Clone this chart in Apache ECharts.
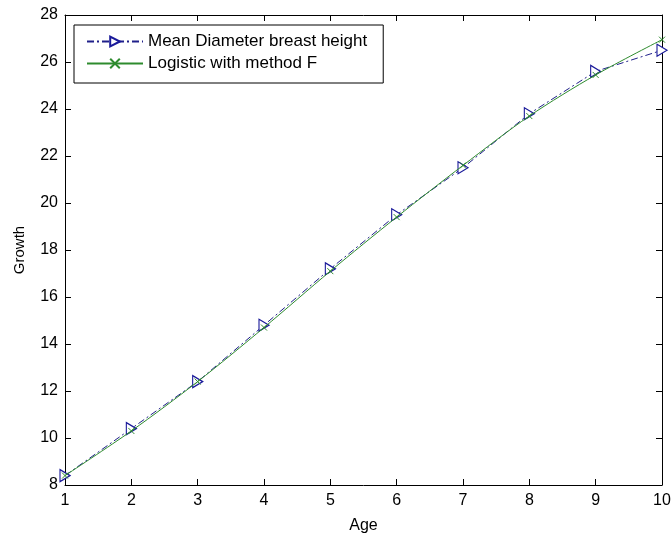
<!DOCTYPE html>
<html>
<head>
<meta charset="utf-8">
<script src="https://cdn.jsdelivr.net/npm/echarts@6/dist/echarts.min.js"></script>
<style>
  html, body { margin: 0; padding: 0; background: #fff; }
  #chart { width: 672px; height: 536px; }
</style>
</head>
<body>
<div id="chart"></div>
<script>
// ages on the x axis
const ages = [1, 2, 3, 4, 5, 6, 7, 8, 9, 10];
// measured mean diameter at breast height
const meanDiameter = [8.4, 10.4, 12.4, 14.8, 17.2, 19.5, 21.5, 23.8, 25.6, 26.5];
// fitted logistic curve (method F)
const logisticF = [8.4, 10.3, 12.4, 14.7, 17.1, 19.4, 21.6, 23.7, 25.45, 26.95];

const font = 'Liberation Sans, Arial, sans-serif';

const sideAxis = {
  type: 'value',
  axisLine: { show: true, lineStyle: { color: '#000', width: 1 } },
  axisTick: { show: true, inside: true, length: 6, lineStyle: { color: '#000' } },
  axisLabel: { show: false },
  splitLine: { show: false }
};

const chart = echarts.init(document.getElementById('chart'));
chart.setOption({
  animation: false,
  backgroundColor: '#fff',
  grid: { left: 65, right: 10, top: 15, bottom: 51, outerBoundsMode: 'none' },
  legend: {
    orient: 'vertical',
    left: 74,
    top: 25,
    padding: [8, 16, 11, 12],
    itemGap: 5,
    itemWidth: 56,
    itemHeight: 12,
    backgroundColor: '#fff',
    borderColor: '#000',
    borderWidth: 1,
    borderRadius: 0,
    textStyle: { fontFamily: font, fontSize: 17, color: '#000' },
    data: ['Mean Diameter breast height', 'Logistic with method F']
  },
  xAxis: [
    {
      type: 'value', min: 1, max: 10, interval: 1,
      name: 'Age', nameLocation: 'middle', nameGap: 33,
      nameTextStyle: { fontFamily: font, fontSize: 16, color: '#000' },
      axisLine: { show: true, onZero: false, lineStyle: { color: '#000', width: 1 } },
      axisTick: { show: true, inside: true, length: 6, lineStyle: { color: '#000' } },
      axisLabel: { fontFamily: font, fontSize: 16, color: '#000', margin: 8 },
      splitLine: { show: false }
    },
    Object.assign({}, sideAxis, { position: 'top', min: 1, max: 10, interval: 1 })
  ],
  yAxis: [
    {
      type: 'value', min: 8, max: 28, interval: 2,
      name: 'Growth', nameLocation: 'middle', nameGap: 38,
      nameTextStyle: { fontFamily: font, fontSize: 15, color: '#000' },
      axisLine: { show: true, onZero: false, lineStyle: { color: '#000', width: 1 } },
      axisTick: { show: true, inside: true, length: 6, lineStyle: { color: '#000' } },
      axisLabel: { fontFamily: font, fontSize: 16, color: '#000', margin: 7 },
      splitLine: { show: false }
    },
    Object.assign({}, sideAxis, { position: 'right', min: 8, max: 28, interval: 2 })
  ],
  series: [
    {
      name: 'Mean Diameter breast height',
      type: 'line',
      data: ages.map((a, i) => [a, meanDiameter[i]]),
      symbol: 'triangle',
      symbolRotate: -90,
      symbolSize: [12, 10],
      lineStyle: { color: '#20208a', width: 1, type: [7, 3, 2, 3] },
      itemStyle: { color: '#fff', borderColor: '#1a1a9a', borderWidth: 1.2 },
      z: 2
    },
    {
      name: 'Logistic with method F',
      type: 'line',
      data: ages.map((a, i) => [a, logisticF[i]]),
      smooth: 0.3,
      symbol: 'path://M0,0L10,10M10,0L0,10',
      symbolSize: 6,
      lineStyle: { color: '#2e8b2e', width: 1 },
      itemStyle: { color: '#2e8b2e', borderColor: '#2e8b2e', borderWidth: 1 },
      z: 3
    }
  ]
});
</script>
</body>
</html>
